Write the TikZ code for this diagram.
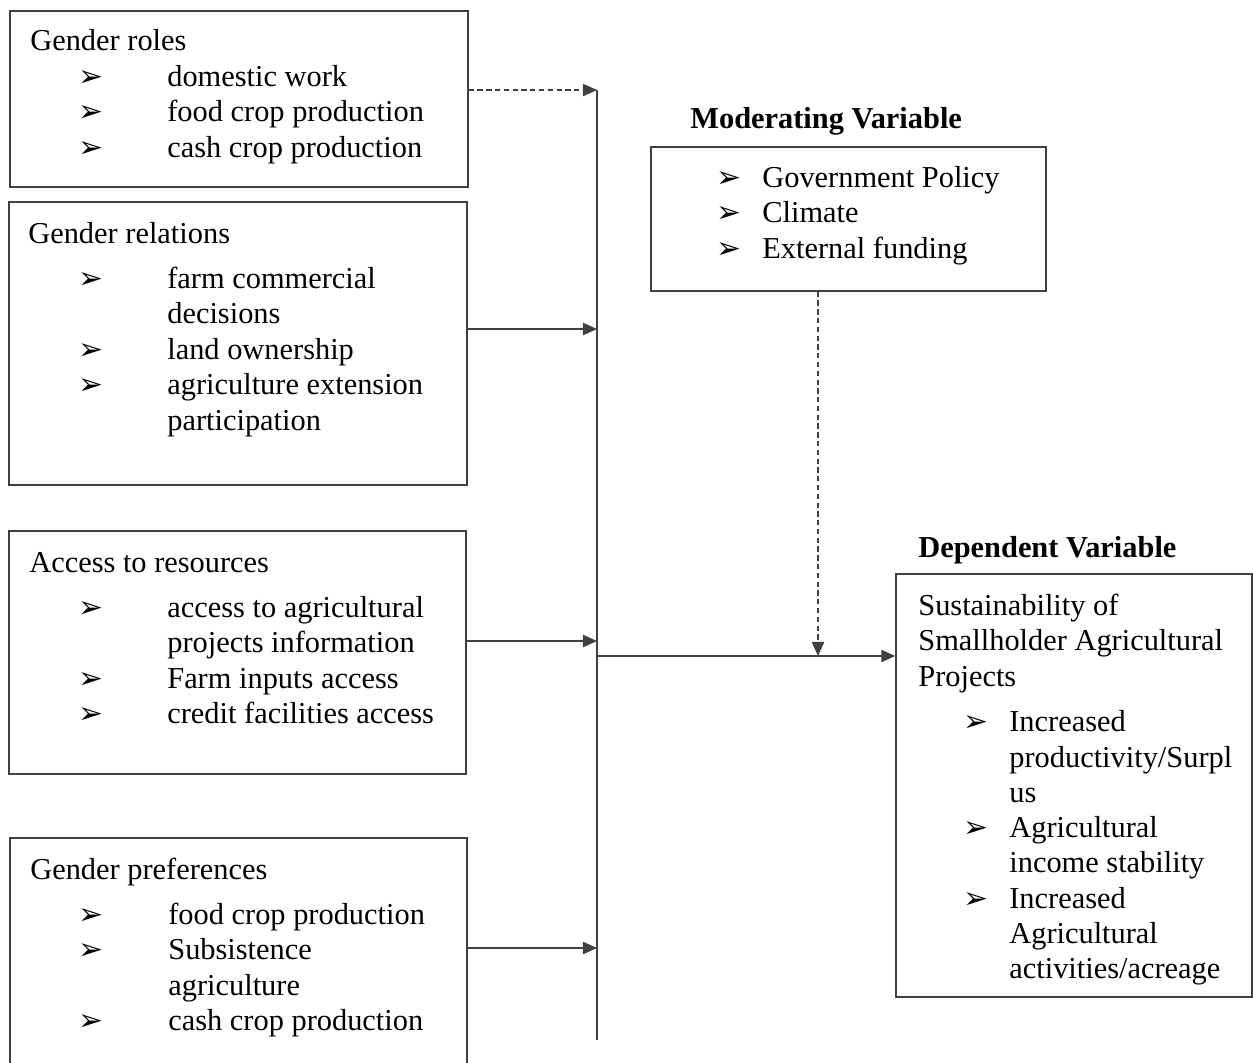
\documentclass[tikz,border=0pt]{standalone}
\usepackage{fontspec}
\setmainfont{Liberation Serif}
\newfontfamily\symfont{DejaVu Sans}
\usetikzlibrary{arrows.meta,fit}

\newcommand{\bularrow}{{\symfont\fontsize{17}{17}\selectfont ➢}}

\tikzset{
	box/.style={draw=black!75, line width=0.8pt, inner sep=0pt},
	txt/.style={anchor=base west, inner sep=0pt, font=\fontsize{17.3}{20}\selectfont},
	ttl/.style={anchor=base west, inner sep=0pt, font=\fontsize{17.3}{20}\selectfont\bfseries},
	bul/.style={anchor=base west, inner sep=0pt},
	link/.style={-{Triangle[length=8pt,width=7pt]}, draw=black!75, line width=0.8pt},
	dlink/.style={link, dash pattern=on 3pt off 2pt},
}

\begin{document}
\begin{tikzpicture}[x=0.02cm, y=-0.02cm]
	\useasboundingbox (0,0) rectangle (1253,1062);
	\clip (0,0) rectangle (1253,1062);

	% independent variables
	\node[box, fit={(10,11) (468,187)}] (roles) {};
	\node[txt] (roles-t) at (30,50) {Gender roles};
	\foreach \y/\s [count=\i] in {86/domestic work, 121/food crop production, 157/cash crop production}{
		\node[bul] (roles-b\i) at (78,\y) {\bularrow};
		\node[txt] (roles-\i) at (167,\y) {\s};
	}

	\node[box, fit={(9,202) (467,485)}] (rel) {};
	\node[txt] (rel-t) at (28,243) {Gender relations};
	\foreach \y/\s [count=\i] in {288/farm commercial, 323/decisions, 359/land ownership, 394/agriculture extension, 430/participation}
		\node[txt] (rel-\i) at (167,\y) {\s};
	\foreach \y [count=\i] in {288,359,394}
		\node[bul] (rel-b\i) at (78,\y) {\bularrow};

	\node[box, fit={(9,531) (466,774)}] (acc) {};
	\node[txt] (acc-t) at (29,572) {Access to resources};
	\foreach \y/\s [count=\i] in {617/access to agricultural, 652/projects information, 688/Farm inputs access, 723/credit facilities access}
		\node[txt] (acc-\i) at (167,\y) {\s};
	\foreach \y [count=\i] in {617,688,723}
		\node[bul] (acc-b\i) at (78,\y) {\bularrow};

	\node[box, fit={(10,838) (467,1080)}] (pref) {};
	\node[txt] (pref-t) at (30,879) {Gender preferences};
	\foreach \y/\s [count=\i] in {924/food crop production, 959/Subsistence, 995/agriculture, 1030/cash crop production}
		\node[txt] (pref-\i) at (168,\y) {\s};
	\foreach \y [count=\i] in {924,959,1030}
		\node[bul] (pref-b\i) at (78,\y) {\bularrow};

	% moderating variable
	\node[ttl] (mod-t) at (690,128) {Moderating Variable};
	\node[box, fit={(651,147) (1046,291)}] (mod) {};
	\foreach \y/\s [count=\i] in {187/Government Policy, 222/Climate, 258/External funding}{
		\node[bul] (mod-b\i) at (716,\y) {\bularrow};
		\node[txt] (mod-\i) at (762,\y) {\s};
	}

	% dependent variable
	\node[ttl] (dep-t) at (918,557) {Dependent Variable};
	\node[box, fit={(896,574) (1252,997)}] (dep) {};
	\foreach \y/\s [count=\i] in {615/Sustainability of, 650/Smallholder Agricultural, 686/Projects}
		\node[txt] (dep-h\i) at (918,\y) {\s};
	\foreach \y/\s [count=\i] in {731/Increased, 767/{productivity/Surpl}, 802/us, 837/Agricultural, 872/income stability, 908/Increased, 943/Agricultural, 978/{activities/acreage}}
		\node[txt] (dep-\i) at (1009,\y) {\s};
	\foreach \y [count=\i] in {731,837,908}
		\node[bul] (dep-b\i) at (963,\y) {\bularrow};

	% connectors
	\coordinate (s1) at (597,90);
	\coordinate (s2) at (597,329);
	\coordinate (s3) at (597,641);
	\coordinate (s4) at (597,948);
	\coordinate (spB) at (597,1040);
	\coordinate (hub) at (597,656);
	\coordinate (mj) at (818,656);
	\draw[draw=black!75, line width=0.8pt] (s1) -- (spB);
	\draw[dlink] (roles.east |- s1) -- (s1);
	\draw[link] (rel.east |- s2) -- (s2);
	\draw[link] (acc.east |- s3) -- (s3);
	\draw[link] (pref.east |- s4) -- (s4);
	\draw[link] (hub) -- (dep.west |- hub);
	\draw[dlink] (mod.south -| mj) -- (mj);
\end{tikzpicture}
\end{document}
